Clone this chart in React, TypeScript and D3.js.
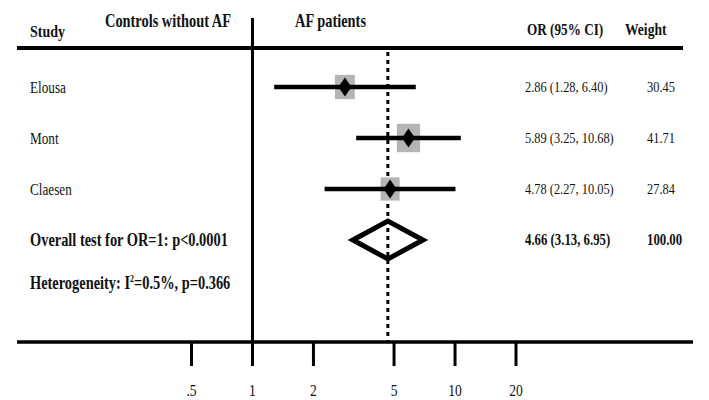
import React from "react";
import * as d3 from "d3";

const studies = ["Elousa", "Mont", "Claesen"];
const oddsRatios = [2.86, 5.89, 4.78];
const ciLower = [1.28, 3.25, 2.27];
const ciUpper = [6.4, 10.68, 10.05];
const weights = [30.45, 41.71, 27.84];
const pooledOR = 4.66;
const pooledLower = 3.13;
const pooledUpper = 6.95;
const pooledWeight = 100.0;
const tickValues = [0.5, 1, 2, 5, 10, 20];
const tickLabels = [".5", "1", "2", "5", "10", "20"];
const overallLabel = "Overall test for OR=1: p<0.0001";

const FONT = "'Liberation Serif', 'Times New Roman', serif";
const SX = 0.8;

function T({ x, y, size, bold, anchor, children }: any) {
  return (
    <text
      transform={`translate(${x},${y}) scale(${SX},1)`}
      fontFamily={FONT}
      fontSize={size}
      fontWeight={bold ? "bold" : "normal"}
      textAnchor={anchor || "start"}
      fill="#111"
    >
      {children}
    </text>
  );
}

export default function App() {
  const W = 709;
  const H = 400;
  const x = d3.scaleLog().domain([0.5, 20]).range([191.5, 516]);
  const y = d3
    .scalePoint<string>()
    .domain([...studies, "Overall"])
    .range([87, 240]);
  const yOverall = y("Overall") as number;
  const yHet = yOverall + 43;
  const axisY = 342;
  const fmt = d3.format(".2f");

  const diamond = [
    [x(pooledLower), yOverall],
    [x(pooledOR), yOverall - 19],
    [x(pooledUpper), yOverall],
    [x(pooledOR), yOverall + 19],
  ];

  return (
    <svg
      width={W}
      height={H}
      style={{ position: "absolute", left: 0, top: 0, display: "block", background: "#fff" }}
    >
      {/* headers */}
      <T x={30} y={37} size={17.5} bold>Study</T>
      <T x={105} y={27} size={18} bold>Controls without AF</T>
      <T x={295} y={27} size={18} bold>AF patients</T>
      <T x={527} y={35} size={16.5} bold>OR (95% CI)</T>
      <T x={625} y={35} size={17} bold>Weight</T>

      {/* top rule */}
      <line x1={17} x2={683} y1={48} y2={48} stroke="#000" strokeWidth={4} />

      {/* dashed pooled line */}
      <line
        x1={x(pooledOR)}
        x2={x(pooledOR)}
        y1={52}
        y2={axisY}
        stroke="#000"
        strokeWidth={3}
        strokeDasharray="4,4"
      />

      {/* null line */}
      <line x1={x(1)} x2={x(1)} y1={18} y2={366} stroke="#000" strokeWidth={3} />

      {/* studies */}
      {studies.map((s, i) => {
        const cy = y(s) as number;
        const bw = 3.6 * Math.sqrt(weights[i]);
        const bh = 4.4 * Math.sqrt(weights[i]);
        const cx = x(oddsRatios[i]);
        return (
          <g key={s}>
            <T x={30} y={cy + 5.5} size={16.5}>{s}</T>
            <rect x={cx - bw / 2} y={cy - bh / 2} width={bw} height={bh} fill="#b5b5b5" />
            <line x1={x(ciLower[i])} x2={x(ciUpper[i])} y1={cy} y2={cy} stroke="#000" strokeWidth={4.5} />
            <path
              d={`M${cx - 6.5},${cy} L${cx},${cy - 9.5} L${cx + 6.5},${cy} L${cx},${cy + 9.5} Z`}
              fill="#000"
            />
            <T x={525} y={cy + 5} size={15.5}>
              {`${fmt(oddsRatios[i])} (${fmt(ciLower[i])}, ${fmt(ciUpper[i])})`}
            </T>
            <T x={647} y={cy + 5} size={15.5}>{fmt(weights[i])}</T>
          </g>
        );
      })}

      {/* overall */}
      <T x={30} y={yOverall + 6} size={18} bold>{overallLabel}</T>
      <path
        d={`M${diamond.map((p) => p.join(",")).join(" L")} Z`}
        fill="none"
        stroke="#000"
        strokeWidth={5}
        strokeLinejoin="miter"
      />
      <T x={525} y={yOverall + 5} size={16} bold>
        {`${fmt(pooledOR)} (${fmt(pooledLower)}, ${fmt(pooledUpper)})`}
      </T>
      <T x={647} y={yOverall + 5} size={16} bold>{fmt(pooledWeight)}</T>

      {/* heterogeneity */}
      <text
        transform={`translate(30,${yHet + 6}) scale(${SX},1)`}
        fontFamily={FONT}
        fontSize={18}
        fontWeight="bold"
        fill="#111"
      >
        Heterogeneity: I
        <tspan fontSize={10} dy={-7}>2</tspan>
        <tspan dy={7}>=0.5%, p=0.366</tspan>
      </text>

      {/* bottom axis */}
      <line x1={17} x2={693} y1={axisY} y2={axisY} stroke="#000" strokeWidth={3.5} />
      {tickValues.map((t, i) => (
        <g key={t}>
          <line x1={x(t)} x2={x(t)} y1={axisY} y2={366} stroke="#000" strokeWidth={3} />
          <T x={x(t)} y={396} size={17} anchor="middle">{tickLabels[i]}</T>
        </g>
      ))}
    </svg>
  );
}
